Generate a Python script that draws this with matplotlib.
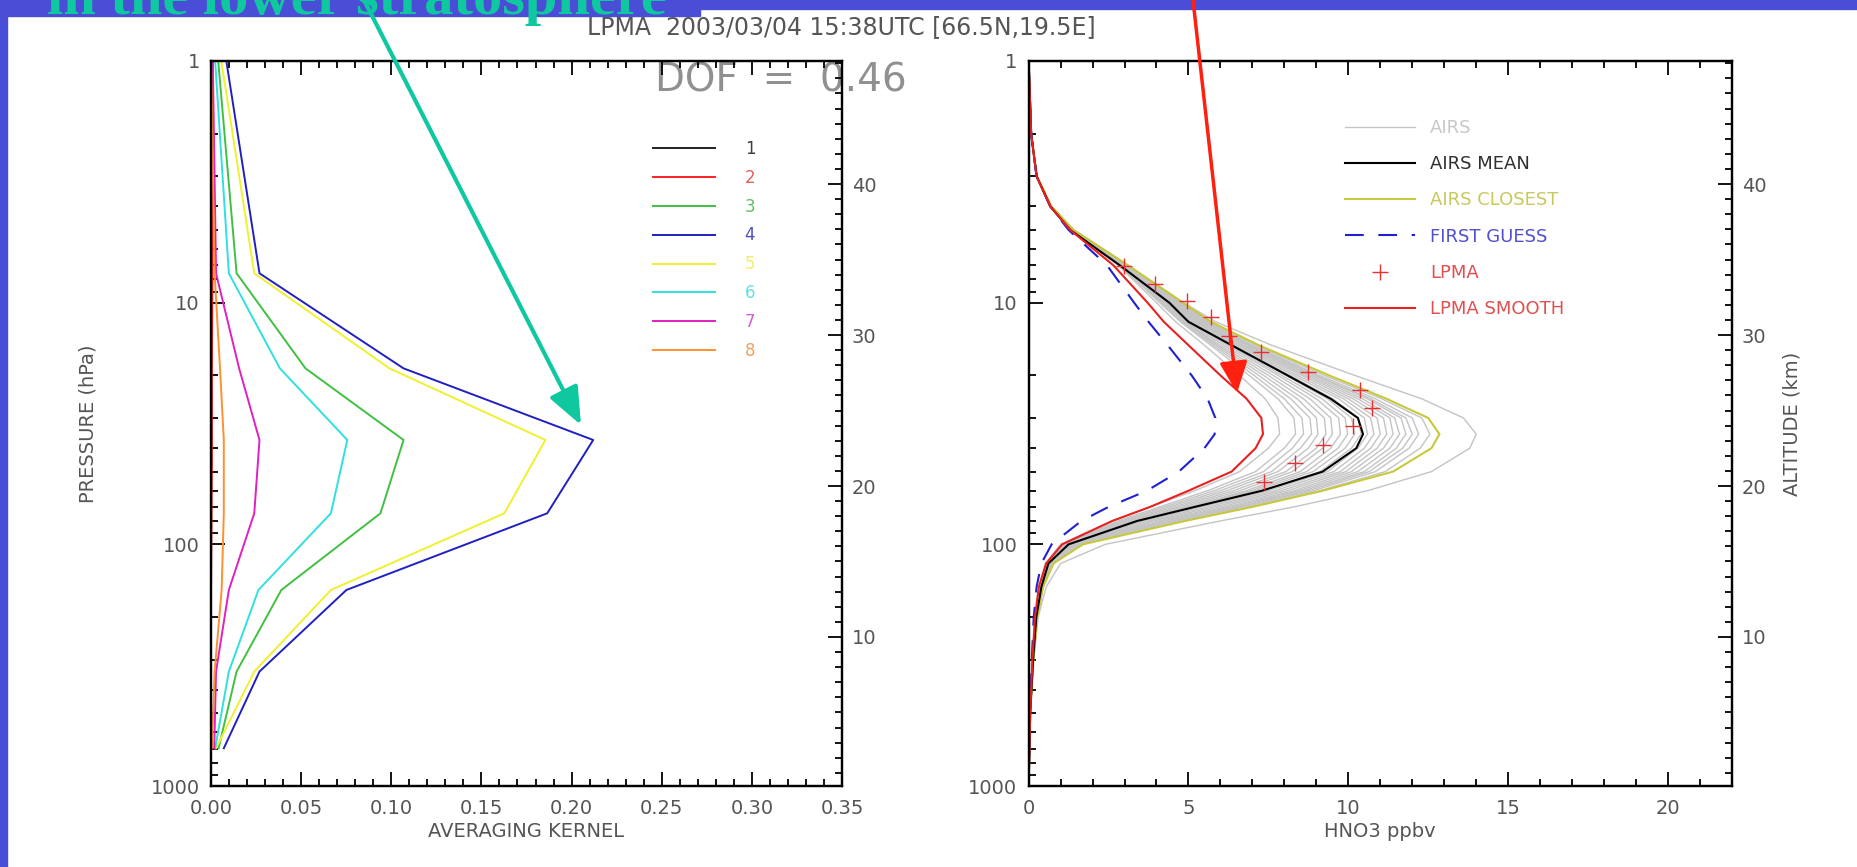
import numpy as np
import matplotlib.pyplot as plt
from matplotlib.ticker import MultipleLocator, FixedLocator, NullFormatter, FormatStrFormatter
from matplotlib.patches import Rectangle, FancyArrowPatch

W, H = 1858, 867

# ---- averaging kernels (left panel) ----
ak_pres = [1, 7.56, 18.7, 37.0, 74.4, 154.5, 336, 698]
ak_1 = [0.0005, 0.0, 0.0, 0.0002, 0.0, -0.0005, 0.0, 0.0]
ak_2 = [0.001, 0.0008, 0.0005, 0.0005, 0.0003, 0.0, 0.0, 0.0]
ak_3 = [0.004, 0.0142, 0.0524, 0.1068, 0.094, 0.039, 0.0142, 0.0042]
ak_4 = [0.0085, 0.0269, 0.1068, 0.212, 0.1865, 0.0751, 0.0269, 0.0071]
ak_5 = [0.0057, 0.024, 0.099, 0.1855, 0.1627, 0.0665, 0.024, 0.0028]
ak_6 = [0.0023, 0.0099, 0.0382, 0.0756, 0.0665, 0.0263, 0.0099, 0.0023]
ak_7 = [0.001, 0.0028, 0.0156, 0.0269, 0.024, 0.0099, 0.0028, 0.0018]
ak_8 = [0.0, 0.002, 0.005, 0.0071, 0.0071, 0.0059, 0.002, 0.0005]
kernels = [ak_1, ak_2, ak_3, ak_4, ak_5, ak_6, ak_7, ak_8]
kernel_labels = ['1', '2', '3', '4', '5', '6', '7', '8']
kernel_colors = ['#202020', '#ff2020', '#40c040', '#2020c0', '#f0f030', '#30e0e0', '#e020c0', '#ff9030']
kernel_text = ['#404040', '#e06060', '#60c060', '#5050c0', '#f0f060', '#60e0e0', '#d060d0', '#f0a060']
dof = 0.46

# ---- HNO3 profiles (right panel) ----
p_lev = [1, 2, 3, 4, 5, 7, 10, 12, 15, 20, 25, 30, 35, 40, 50, 60, 70, 80, 100, 120, 150, 200, 300, 500, 1000]
airs_mean = [0, 0.08, 0.25, 0.68, 1.3, 2.85, 4.4, 5.0, 6.35, 8.1, 9.45, 10.3, 10.46, 10.25, 9.2, 7.3, 5.2, 3.4, 1.25, 0.62, 0.4, 0.24, 0.14, 0.05, 0]
airs_closest = [0, 0.08, 0.26, 0.72, 1.4, 3.1, 4.82, 5.7, 7.2, 9.4, 11.2, 12.5, 12.85, 12.6, 11.4, 9.2, 7.0, 4.9, 1.7, 0.78, 0.45, 0.27, 0.15, 0.05, 0]
first_guess = [0, 0.08, 0.25, 0.68, 1.25, 2.45, 3.3, 3.75, 4.35, 5.1, 5.6, 5.84, 5.82, 5.5, 4.7, 3.7, 2.5, 1.65, 0.72, 0.4, 0.25, 0.16, 0.1, 0.04, 0]
lpma_smooth = [0, 0.08, 0.25, 0.68, 1.3, 2.65, 3.72, 4.23, 5.0, 6.0, 6.82, 7.28, 7.33, 7.1, 6.35, 5.0, 3.8, 2.62, 1.05, 0.55, 0.32, 0.2, 0.12, 0.05, 0]
airs_profiles = [
    [0, 0.08, 0.25, 0.68, 1.3, 2.8, 4.0, 4.6, 5.5, 6.6, 7.4, 7.8, 7.85, 7.5, 6.6, 5.2, 3.8, 2.6, 1.0, 0.52, 0.33, 0.2, 0.12, 0.05, 0],
    [0, 0.08, 0.25, 0.68, 1.31, 2.84, 4.1, 4.75, 5.7, 6.9, 7.8, 8.3, 8.35, 8.0, 7.1, 5.6, 4.1, 2.8, 1.05, 0.55, 0.35, 0.21, 0.12, 0.05, 0],
    [0, 0.08, 0.25, 0.68, 1.32, 2.85, 4.15, 4.8, 5.78, 7.05, 8.0, 8.55, 8.6, 8.25, 7.35, 5.8, 4.25, 2.9, 1.08, 0.56, 0.36, 0.21, 0.12, 0.05, 0],
    [0, 0.08, 0.25, 0.69, 1.32, 2.87, 4.2, 4.85, 5.85, 7.2, 8.2, 8.8, 8.85, 8.5, 7.6, 6.0, 4.4, 3.0, 1.1, 0.58, 0.37, 0.22, 0.13, 0.05, 0],
    [0, 0.08, 0.25, 0.69, 1.33, 2.88, 4.25, 4.9, 5.92, 7.35, 8.4, 9.0, 9.05, 8.75, 7.8, 6.2, 4.55, 3.1, 1.12, 0.59, 0.38, 0.22, 0.13, 0.05, 0],
    [0, 0.08, 0.25, 0.69, 1.33, 2.9, 4.3, 4.95, 6.0, 7.5, 8.6, 9.25, 9.3, 9.0, 8.05, 6.4, 4.7, 3.2, 1.15, 0.6, 0.39, 0.23, 0.13, 0.05, 0],
    [0, 0.08, 0.25, 0.69, 1.34, 2.92, 4.32, 5.0, 6.1, 7.65, 8.8, 9.45, 9.5, 9.2, 8.25, 6.6, 4.85, 3.3, 1.18, 0.61, 0.39, 0.23, 0.13, 0.05, 0],
    [0, 0.08, 0.25, 0.7, 1.34, 2.93, 4.35, 5.05, 6.2, 7.8, 9.0, 9.7, 9.75, 9.45, 8.5, 6.8, 5.0, 3.35, 1.2, 0.62, 0.4, 0.24, 0.14, 0.05, 0],
    [0, 0.08, 0.26, 0.7, 1.35, 2.95, 4.4, 5.1, 6.28, 7.92, 9.18, 9.9, 9.98, 9.68, 8.7, 6.95, 5.05, 3.38, 1.22, 0.62, 0.4, 0.24, 0.14, 0.05, 0],
    [0, 0.08, 0.26, 0.7, 1.35, 2.96, 4.45, 5.15, 6.35, 8.05, 9.35, 10.1, 10.2, 9.9, 8.9, 7.1, 5.1, 3.4, 1.25, 0.63, 0.41, 0.25, 0.14, 0.05, 0],
    [0, 0.08, 0.26, 0.7, 1.36, 2.97, 4.48, 5.2, 6.42, 8.18, 9.52, 10.3, 10.4, 10.1, 9.12, 7.3, 5.25, 3.5, 1.28, 0.64, 0.41, 0.25, 0.14, 0.05, 0],
    [0, 0.08, 0.26, 0.7, 1.36, 2.99, 4.5, 5.25, 6.5, 8.3, 9.7, 10.5, 10.6, 10.3, 9.35, 7.5, 5.4, 3.6, 1.3, 0.65, 0.42, 0.25, 0.14, 0.05, 0],
    [0, 0.08, 0.26, 0.71, 1.37, 3.0, 4.52, 5.3, 6.58, 8.42, 9.85, 10.7, 10.8, 10.5, 9.55, 7.7, 5.6, 3.75, 1.34, 0.66, 0.42, 0.25, 0.14, 0.05, 0],
    [0, 0.08, 0.26, 0.71, 1.37, 3.01, 4.55, 5.35, 6.65, 8.55, 10.0, 10.9, 11.0, 10.7, 9.75, 7.9, 5.8, 3.9, 1.38, 0.68, 0.43, 0.26, 0.14, 0.05, 0],
    [0, 0.08, 0.26, 0.71, 1.38, 3.02, 4.58, 5.4, 6.72, 8.65, 10.15, 11.1, 11.2, 10.9, 9.92, 8.1, 6.0, 4.05, 1.42, 0.69, 0.43, 0.26, 0.14, 0.05, 0],
    [0, 0.08, 0.26, 0.71, 1.38, 3.04, 4.62, 5.45, 6.8, 8.75, 10.3, 11.3, 11.4, 11.1, 10.1, 8.3, 6.2, 4.2, 1.45, 0.7, 0.44, 0.26, 0.15, 0.05, 0],
    [0, 0.08, 0.26, 0.71, 1.39, 3.05, 4.65, 5.5, 6.85, 8.85, 10.45, 11.45, 11.6, 11.3, 10.3, 8.45, 6.35, 4.3, 1.48, 0.71, 0.44, 0.26, 0.15, 0.05, 0],
    [0, 0.08, 0.26, 0.71, 1.39, 3.06, 4.68, 5.55, 6.9, 8.95, 10.6, 11.65, 11.8, 11.5, 10.5, 8.6, 6.5, 4.45, 1.52, 0.72, 0.44, 0.27, 0.15, 0.05, 0],
    [0, 0.08, 0.26, 0.72, 1.4, 3.07, 4.7, 5.58, 6.95, 9.0, 10.7, 11.8, 12.0, 11.7, 10.65, 8.75, 6.6, 4.55, 1.55, 0.73, 0.45, 0.27, 0.15, 0.05, 0],
    [0, 0.08, 0.26, 0.72, 1.4, 3.08, 4.74, 5.62, 7.0, 9.1, 10.85, 12.0, 12.2, 11.9, 10.85, 8.9, 6.75, 4.65, 1.6, 0.75, 0.45, 0.27, 0.15, 0.05, 0],
    [0, 0.08, 0.26, 0.72, 1.4, 3.1, 4.8, 5.7, 7.1, 9.25, 11.05, 12.3, 12.55, 12.25, 11.15, 9.1, 6.9, 4.8, 1.65, 0.77, 0.46, 0.27, 0.15, 0.05, 0],
    [0, 0.08, 0.26, 0.72, 1.42, 3.12, 4.85, 5.85, 7.6, 10.2, 12.3, 13.6, 14.0, 13.8, 12.6, 10.6, 8.3, 6.0, 2.4, 1.0, 0.55, 0.3, 0.16, 0.05, 0],
]
lpma_p = [7.05, 8.40, 9.81, 11.5, 13.7, 16.05, 19.3, 23.0, 27.2, 32.4, 38.8, 46.2, 55.1]
lpma_x = [2.99, 3.94, 4.94, 5.72, 6.26, 7.28, 8.75, 10.36, 10.74, 10.15, 9.22, 8.32, 7.36]

title = 'LPMA  2003/03/04 15:38UTC [66.5N,19.5E]'
heading = 'in the lower stratosphere'

slide_blue = '#4a4ed6'
teal = '#10c8a0'
tick_grey = '#555555'

fig = plt.figure(figsize=(W / 100, H / 100), dpi=100)
fig.patch.set_facecolor('white')

# slide frame
fig.patches.append(Rectangle((0, 0), 7 / W, 1, transform=fig.transFigure, color=slide_blue, zorder=0))
fig.patches.append(Rectangle((0, 1 - 9 / H), 1, 9 / H, transform=fig.transFigure, color=slide_blue, zorder=0))
fig.patches.append(Rectangle((0, 1 - 16 / H), 700 / W, 16 / H, transform=fig.transFigure, color=slide_blue, zorder=0))
fig.text(47 / W, 1 - 14 / H, heading, fontsize=42, family='Liberation Serif', weight='bold',
         color=teal, va='baseline', ha='left')
fig.text(841 / W, 1 - 27 / H, title, fontsize=17, color=tick_grey, ha='center', va='center')


def style_axes(ax):
    for s in ax.spines.values():
        s.set_linewidth(1.6)
    ax.tick_params(which='both', direction='in', width=1.3, colors='black',
                   labelcolor=tick_grey, labelsize=14)
    ax.tick_params(which='major', length=10)
    ax.tick_params(which='minor', length=5)


def pressure_axis(ax):
    ax.set_yscale('log')
    ax.set_ylim(1000, 1)
    ax.yaxis.set_major_locator(FixedLocator([1, 10, 100, 1000]))
    ax.yaxis.set_major_formatter(FormatStrFormatter('%d'))
    ax.yaxis.set_minor_locator(FixedLocator([m * d for d in (1, 10, 100) for m in range(2, 10)]))
    ax.yaxis.set_minor_formatter(NullFormatter())
    ax.tick_params(axis='y', which='both', left=True, right=False, pad=8)
    ax.tick_params(axis='x', which='both', top=True, bottom=True, pad=9)


def altitude_axis(ax):
    axt = ax.twinx()
    axt.set_ylim(0.13, 48.15)
    axt.yaxis.set_major_locator(FixedLocator([10, 20, 30, 40]))
    axt.yaxis.set_minor_locator(MultipleLocator(1))
    axt.yaxis.set_major_formatter(FormatStrFormatter('%d'))
    style_axes(axt)
    axt.tick_params(axis='y', which='both', left=False, right=True, pad=7)
    return axt


# ---- left panel ----
ax1 = fig.add_axes([211 / W, 81 / H, 631 / W, 725 / H])
for vals, col, lab in zip(kernels, kernel_colors, kernel_labels):
    ax1.plot(vals, ak_pres, color=col, lw=1.4, label=lab)
ax1.set_xlim(0, 0.35)
ax1.xaxis.set_major_locator(MultipleLocator(0.05))
ax1.xaxis.set_minor_locator(MultipleLocator(0.01))
ax1.xaxis.set_major_formatter(FormatStrFormatter('%.2f'))
style_axes(ax1)
pressure_axis(ax1)
ax1.set_xlabel('AVERAGING KERNEL', fontsize=14, color=tick_grey)
ax1.xaxis.set_label_coords(0.5, -0.05)
ax1.xaxis.label.set_va('top')
ax1.set_ylabel('PRESSURE (hPa)', fontsize=14, color=tick_grey)
ax1.yaxis.set_label_coords(-0.18, 0.5)
leg1 = ax1.legend(loc='upper left', bbox_to_anchor=(653 / W, 1 - 140 / H), bbox_transform=fig.transFigure,
                  frameon=False, fontsize=12, handlelength=3.7, handletextpad=1.8, labelspacing=0.65,
                  borderpad=0, borderaxespad=0)
for t, c in zip(leg1.get_texts(), kernel_text):
    t.set_color(c)
ax1.text(655 / W, 1 - 80 / H, 'DOF  =  %.2f' % dof, transform=fig.transFigure, fontsize=28,
         color='#909090', va='center', ha='left', clip_on=False, zorder=1)
altitude_axis(ax1)

# ---- right panel ----
ax2 = fig.add_axes([1028.6 / W, 81 / H, 703.4 / W, 725 / H])
for i, prof in enumerate(airs_profiles):
    ax2.plot(prof, p_lev, color='#c4c4c4', lw=1.0, zorder=1, label='AIRS' if i == 0 else None)
ax2.plot(airs_mean, p_lev, color='black', lw=1.5, zorder=3, label='AIRS MEAN')
ax2.plot(airs_closest, p_lev, color='#c8c83c', lw=1.5, zorder=2, label='AIRS CLOSEST')
ax2.plot(first_guess, p_lev, color='#2020d0', lw=1.5, dashes=(9, 7), zorder=3, label='FIRST GUESS')
ax2.plot(lpma_x, lpma_p, ls='none', marker='+', ms=11, mew=1.0, color='#e83030', zorder=4, label='LPMA')
ax2.plot(lpma_smooth, p_lev, color='#e82020', lw=1.5, zorder=3, label='LPMA SMOOTH')
ax2.set_xlim(0, 22)
ax2.xaxis.set_major_locator(MultipleLocator(5))
ax2.xaxis.set_minor_locator(MultipleLocator(1))
ax2.xaxis.set_major_formatter(FormatStrFormatter('%d'))
style_axes(ax2)
pressure_axis(ax2)
ax2.set_xlabel('HNO3 ppbv', fontsize=14, color=tick_grey)
ax2.xaxis.set_label_coords(0.5, -0.05)
ax2.xaxis.label.set_va('top')
leg2 = ax2.legend(loc='upper left', bbox_to_anchor=(1345 / W, 1 - 119 / H), bbox_transform=fig.transFigure,
                  frameon=False, fontsize=13, handlelength=3.9, handletextpad=0.8, labelspacing=1.01,
                  borderpad=0, borderaxespad=0, numpoints=1)
for t, c in zip(leg2.get_texts(), ['#c8c8c8', '#303030', '#c8c860', '#5050d0', '#e05050', '#e05050']):
    t.set_color(c)
axt2 = altitude_axis(ax2)
axt2.set_ylabel('ALTITUDE (km)', fontsize=14, color=tick_grey)
axt2.yaxis.set_label_coords(1.072, 0.5)

# ---- arrows from the slide heading ----
fig.add_artist(FancyArrowPatch((364 / W, 1.0), (581 / W, 1 - 425 / H), transform=fig.transFigure,
                               arrowstyle='-|>,head_length=2.3,head_width=0.95', mutation_scale=10,
                               lw=3, color=teal, shrinkA=0, shrinkB=0))
fig.add_artist(FancyArrowPatch((1193 / W, 1.0), (1237 / W, 1 - 393 / H), transform=fig.transFigure,
                               arrowstyle='-|>,head_length=1.9,head_width=0.85', mutation_scale=10,
                               lw=2.5, color='#ff2010', shrinkA=0, shrinkB=0))

fig.savefig('out.png', dpi=100)
